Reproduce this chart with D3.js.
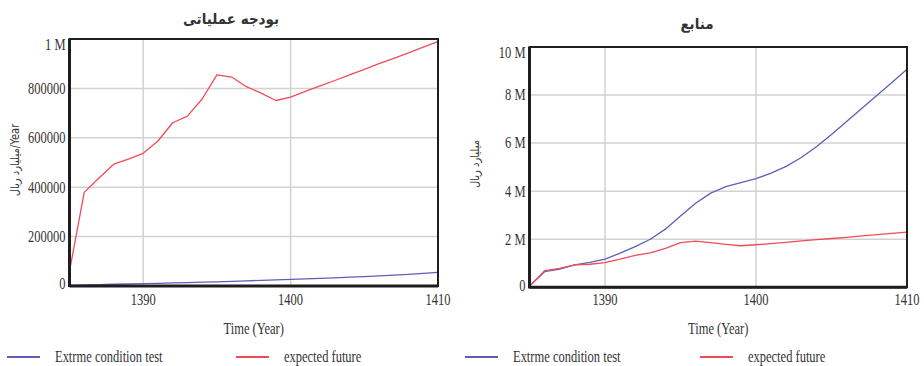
<!DOCTYPE html>
<html>
<head>
<meta charset="utf-8">
<script src="https://cdn.jsdelivr.net/npm/d3@7"></script>
<style>
  html, body { margin: 0; padding: 0; background: #fff; }
  svg { display: block; }
</style>
</head>
<body>
<svg id="chart" width="924" height="366"></svg>
<script>
// Simulation years shared by both panels
const years = [1385, 1386, 1387, 1388, 1389, 1390, 1391, 1392, 1393, 1394, 1395, 1396, 1397,
               1398, 1399, 1400, 1401, 1402, 1403, 1404, 1405, 1406, 1407, 1408, 1409, 1410];

// Operating budget (left panel)
const budgetExtreme = [2000, 4000, 5000, 7000, 8000, 10000, 11000, 13000, 14000, 16000, 17000, 19000, 21000,
                       23000, 25000, 27000, 29000, 31000, 33000, 36000, 38000, 41000, 44000, 47000, 51000, 55000];
const budgetExpected = [60000, 379000, 437000, 493000, 514000, 537000, 587000, 661000, 688000, 757000, 855000, 846000, 807000,
                        781000, 751000, 765000, 788000, 810000, 832000, 855000, 877000, 900000, 922000, 944000, 967000, 989000];

// Resources (right panel)
const resourcesExtreme = [50000, 650000, 760000, 930000, 1040000, 1170000, 1420000, 1690000, 2000000, 2420000, 2970000, 3500000, 3920000,
                          4190000, 4360000, 4520000, 4750000, 5030000, 5400000, 5850000, 6360000, 6900000, 7440000, 7980000, 8520000, 9070000];
const resourcesExpected = [50000, 690000, 790000, 930000, 960000, 1030000, 1170000, 1330000, 1430000, 1620000, 1860000, 1920000, 1860000,
                           1790000, 1730000, 1770000, 1820000, 1870000, 1930000, 1980000, 2030000, 2080000, 2140000, 2190000, 2240000, 2300000];

// Axis ticks and labels
const yearTicks = [1390, 1400, 1410];
const budgetTicks = [0, 200000, 400000, 600000, 800000, 1000000];
const budgetTickLabels = ["0", "200000", "400000", "600000", "800000", "1 M"];
const resourceTicks = [0, 2000000, 4000000, 6000000, 8000000, 10000000];
const resourceTickLabels = ["0", "2 M", "4 M", "6 M", "8 M", "10 M"];

const seriesNames = ["Extrme condition test", "expected future"];
const seriesColors = ["#5c60b6", "#f04c57"];

const svg = d3.select("#chart");
const LATIN = "'Liberation Serif', 'Times New Roman', serif";
const ARABIC = "'DejaVu Sans', sans-serif";
const TEXT_COLOR = "#333";
const STRETCH = 1.3;

// Text drawn with a slight vertical stretch, like the exported chart fonts
function label(g, x, y, str, anchor, size, opts = {}) {
  const t = g.append("text")
    .attr("transform", `translate(${x},${y}) ${opts.rotate ? "rotate(" + opts.rotate + ")" : ""} scale(1,${opts.stretch ?? STRETCH})`)
    .attr("text-anchor", anchor)
    .attr("font-family", opts.family || LATIN)
    .attr("font-size", size)
    .attr("font-weight", opts.weight || "normal")
    .attr("fill", TEXT_COLOR)
    .text(str);
  return t;
}

function panel(cfg) {
  const g = svg.append("g");
  const x = d3.scaleLinear().domain([years[0], years[years.length - 1]]).range([cfg.left, cfg.right]);
  const y = d3.scaleLinear().domain([0, cfg.yTicks[cfg.yTicks.length - 1]]).range([cfg.bottom, cfg.top]);

  // grid
  g.append("g").selectAll("line.h").data(cfg.yTicks.slice(1, -1)).join("line")
    .attr("x1", cfg.left).attr("x2", cfg.right)
    .attr("y1", d => y(d)).attr("y2", d => y(d))
    .attr("stroke", "#d2d2d2").attr("stroke-width", 1.5);
  g.append("g").selectAll("line.v").data(yearTicks.slice(0, -1)).join("line")
    .attr("x1", d => x(d)).attr("x2", d => x(d))
    .attr("y1", cfg.top).attr("y2", cfg.bottom)
    .attr("stroke", "#d2d2d2").attr("stroke-width", 1.5);

  // series
  const line = d3.line().x((d, i) => x(years[i])).y(d => y(d));
  cfg.series.forEach((s, i) => {
    g.append("path").datum(s).attr("d", line)
      .attr("fill", "none").attr("stroke", seriesColors[i]).attr("stroke-width", 1.3)
      .attr("stroke-linejoin", "round");
  });

  // frame
  g.append("rect")
    .attr("x", cfg.left).attr("y", cfg.top)
    .attr("width", cfg.right - cfg.left).attr("height", cfg.bottom - cfg.top)
    .attr("fill", "none").attr("stroke", "#1e1e1e").attr("stroke-width", 2);
  g.append("line").attr("x1", cfg.left).attr("x2", cfg.left).attr("y1", cfg.top).attr("y2", cfg.bottom + 1)
    .attr("stroke", "#1e1e1e").attr("stroke-width", 3);
  g.append("line").attr("x1", cfg.left).attr("x2", cfg.right).attr("y1", cfg.bottom).attr("y2", cfg.bottom)
    .attr("stroke", "#1e1e1e").attr("stroke-width", 3);

  // y tick labels (top label kept inside the frame height)
  const fs = 12.5;
  const digitH = 0.66 * fs * STRETCH;
  cfg.yTicks.forEach((t, i) => {
    let cy = y(t);
    if (i === cfg.yTicks.length - 1) cy = cfg.top + digitH / 2 + 0.5;
    if (i === 0) cy = cfg.bottom - 2;
    label(g, cfg.left - 4, cy + digitH / 2, cfg.yLabels[i], "end", fs);
  });

  // x tick labels
  yearTicks.forEach(t => label(g, x(t), 305, t, "middle", fs));

  // axis title
  label(g, (cfg.left + cfg.right) / 2, 333.5, "Time (Year)", "middle", 12.5);

  // chart title
  label(g, cfg.titleX, cfg.titleY, cfg.title, "middle", 13.5, { family: ARABIC, weight: "bold", stretch: 1.1 });

  // y title
  label(g, cfg.yTitleX, cfg.yTitleY, cfg.yTitle, "middle", 10, { family: ARABIC, rotate: -90, stretch: 1.15 });

  // legend
  cfg.legend.forEach((L, i) => {
    g.append("line").attr("x1", L.x).attr("x2", L.x + 33).attr("y1", 357).attr("y2", 357)
      .attr("stroke", seriesColors[i]).attr("stroke-width", 2);
    label(g, L.x + 48, 361.5, seriesNames[i], "start", 12.5);
  });
}

panel({
  left: 69.5, right: 438, top: 39, bottom: 286,
  yTicks: budgetTicks, yLabels: budgetTickLabels,
  series: [budgetExtreme, budgetExpected],
  title: "بودجه عملیاتی", titleX: 231, titleY: 24,
  yTitle: "میلیارد ریال/Year", yTitleX: 19, yTitleY: 160,
  legend: [{ x: 7 }, { x: 236 }]
});

panel({
  left: 529.5, right: 907, top: 47, bottom: 287.3,
  yTicks: resourceTicks, yLabels: resourceTickLabels,
  series: [resourcesExtreme, resourcesExpected],
  title: "منابع", titleX: 697, titleY: 29,
  yTitle: "میلیارد ریال", yTitleX: 479, yTitleY: 164,
  legend: [{ x: 465 }, { x: 700 }]
});
</script>
</body>
</html>
